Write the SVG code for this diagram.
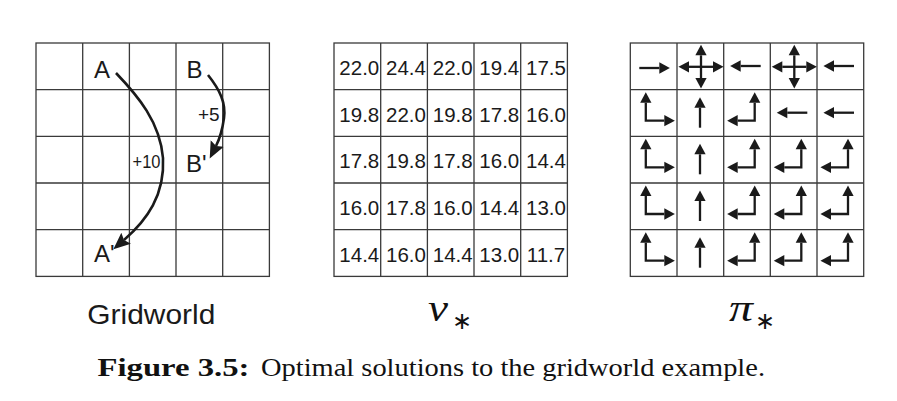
<svg xmlns="http://www.w3.org/2000/svg" xmlns:xlink="http://www.w3.org/1999/xlink" width="897" height="401" viewBox="0 0 897 401">
<style>
.gl{fill:none;stroke:#3a3a3a;stroke-width:1.3}
.lbl{font-family:"Liberation Sans",Arial,sans-serif;fill:#1a1a1a}
.big{font-size:24px}
.rw{font-size:19px}
.num{font-family:"Liberation Sans",Arial,sans-serif;font-size:20.5px;fill:#1a1a1a;text-anchor:middle}
.pa{fill:none;stroke:#1a1a1a;stroke-width:2.3}
.cv{fill:none;stroke:#1a1a1a;stroke-width:2.6}
.math{font-family:"Liberation Serif","Times New Roman",serif;font-style:italic;font-size:38px;fill:#111}
.ast{font-family:"DejaVu Sans",sans-serif;font-size:24px;fill:#111}
.cap{font-family:"Liberation Serif","Times New Roman",serif;font-size:26px;fill:#111}
</style>
<defs>
<marker id="ah" markerUnits="userSpaceOnUse" markerWidth="12" markerHeight="12" viewBox="0 -5 9 10" refX="0" refY="0" orient="auto-start-reverse">
<path d="M0,-4.7 L8.8,0 L0,4.7 z" fill="#1a1a1a"/>
</marker>
<marker id="bh" markerUnits="userSpaceOnUse" markerWidth="18" markerHeight="16" viewBox="0 -7 16 14" refX="2.5" refY="0" orient="auto">
<path d="M0,-6.5 L15,0 L0,6.5 L2.5,0 z" fill="#1a1a1a"/>
</marker>
<g id="grid">
<rect class="gl" x="0" y="0" width="233.4" height="233.4"/>
<path class="gl" d="M46.7,0V233.4M93.4,0V233.4M140,0V233.4M186.7,0V233.4M0,46.7H233.4M0,93.4H233.4M0,140H233.4M0,186.7H233.4"/>
</g>
<path id="r" class="pa" marker-end="url(#ah)" d="M9,25 H29"/>
<path id="l" class="pa" marker-end="url(#ah)" d="M37,23 H17"/>
<path id="u" class="pa" marker-end="url(#ah)" d="M23,38 V18"/>
<path id="ur" class="pa" marker-start="url(#ah)" marker-end="url(#ah)" d="M15.5,13 V31 H34"/>
<path id="ul" class="pa" marker-start="url(#ah)" marker-end="url(#ah)" d="M31,13 V31 H14"/>
<g id="all">
<path class="pa" marker-start="url(#ah)" marker-end="url(#ah)" d="M12,23.8 H36"/>
<path class="pa" marker-start="url(#ah)" marker-end="url(#ah)" d="M24,12.3 V35"/>
</g>
</defs>

<g id="gridworld">
<use xlink:href="#grid" href="#grid" x="36" y="43"/>
<text class="lbl big" x="94" y="78">A</text>
<text class="lbl big" x="186.5" y="78">B</text>
<text class="lbl big" x="186" y="172">B'</text>
<text class="lbl big" x="94" y="262">A'</text>
<text class="lbl rw" x="198" y="120.7">+5</text>
<text class="lbl rw" x="132.5" y="168" textLength="28" lengthAdjust="spacingAndGlyphs">+10</text>
</g>

<g id="connectors">
<path class="cv" marker-end="url(#bh)" d="M116,73 C138,96 160,122 163,158 C165,195 147,220 124,240"/>
<path class="cv" marker-end="url(#bh)" d="M208,75 C220,90 226,103 224,118 C222.5,129 220,138 216,146"/>
</g>

<g id="values">
<use xlink:href="#grid" href="#grid" x="334" y="43"/>
<text class="num" x="359.3" y="74.8">22.0</text><text class="num" x="406" y="74.8">24.4</text><text class="num" x="452.7" y="74.8">22.0</text><text class="num" x="499.3" y="74.8">19.4</text><text class="num" x="546" y="74.8">17.5</text>
<text class="num" x="359.3" y="121.5">19.8</text><text class="num" x="406" y="121.5">22.0</text><text class="num" x="452.7" y="121.5">19.8</text><text class="num" x="499.3" y="121.5">17.8</text><text class="num" x="546" y="121.5">16.0</text>
<text class="num" x="359.3" y="168.2">17.8</text><text class="num" x="406" y="168.2">19.8</text><text class="num" x="452.7" y="168.2">17.8</text><text class="num" x="499.3" y="168.2">16.0</text><text class="num" x="546" y="168.2">14.4</text>
<text class="num" x="359.3" y="214.8">16.0</text><text class="num" x="406" y="214.8">17.8</text><text class="num" x="452.7" y="214.8">16.0</text><text class="num" x="499.3" y="214.8">14.4</text><text class="num" x="546" y="214.8">13.0</text>
<text class="num" x="359.3" y="261.5">14.4</text><text class="num" x="406" y="261.5">16.0</text><text class="num" x="452.7" y="261.5">14.4</text><text class="num" x="499.3" y="261.5">13.0</text><text class="num" x="546" y="261.5">11.7</text>
</g>

<g id="policy">
<use xlink:href="#grid" href="#grid" x="630.3" y="43"/>
<use href="#r" xlink:href="#r" x="630.3" y="43"/><use href="#all" xlink:href="#all" x="677" y="43"/><use href="#l" xlink:href="#l" x="723.7" y="43"/><use href="#all" xlink:href="#all" x="770.3" y="43"/><use href="#l" xlink:href="#l" x="817" y="43"/>
<use href="#ur" xlink:href="#ur" x="630.3" y="89.7"/><use href="#u" xlink:href="#u" x="677" y="89.7"/><use href="#ul" xlink:href="#ul" x="723.7" y="89.7"/><use href="#l" xlink:href="#l" x="770.3" y="89.7"/><use href="#l" xlink:href="#l" x="817" y="89.7"/>
<use href="#ur" xlink:href="#ur" x="630.3" y="136.3"/><use href="#u" xlink:href="#u" x="677" y="136.3"/><use href="#ul" xlink:href="#ul" x="723.7" y="136.3"/><use href="#ul" xlink:href="#ul" x="770.3" y="136.3"/><use href="#ul" xlink:href="#ul" x="817" y="136.3"/>
<use href="#ur" xlink:href="#ur" x="630.3" y="183"/><use href="#u" xlink:href="#u" x="677" y="183"/><use href="#ul" xlink:href="#ul" x="723.7" y="183"/><use href="#ul" xlink:href="#ul" x="770.3" y="183"/><use href="#ul" xlink:href="#ul" x="817" y="183"/>
<use href="#ur" xlink:href="#ur" x="630.3" y="229.7"/><use href="#u" xlink:href="#u" x="677" y="229.7"/><use href="#ul" xlink:href="#ul" x="723.7" y="229.7"/><use href="#ul" xlink:href="#ul" x="770.3" y="229.7"/><use href="#ul" xlink:href="#ul" x="817" y="229.7"/>
</g>

<g id="titles">
<text class="lbl" x="87.3" y="324.3" font-size="28" textLength="128" lengthAdjust="spacingAndGlyphs">Gridworld</text>
<text class="math" x="428" y="321" textLength="20" lengthAdjust="spacingAndGlyphs">v</text>
<text class="ast" x="452" y="329">∗</text>
<text class="math" x="729" y="321" textLength="24" lengthAdjust="spacingAndGlyphs">π</text>
<text class="ast" x="755" y="329">∗</text>
</g>

<g id="caption">
<text class="cap" x="97.5" y="376" font-weight="bold" textLength="152" lengthAdjust="spacingAndGlyphs">Figure 3.5:</text>
<text class="cap" x="261" y="376" textLength="504" lengthAdjust="spacingAndGlyphs">Optimal solutions to the gridworld example.</text>
</g>
</svg>
